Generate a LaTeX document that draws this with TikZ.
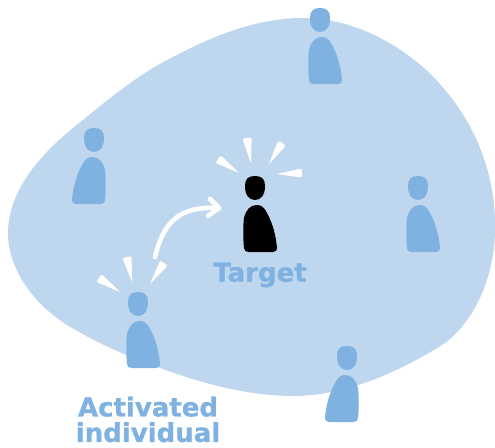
\documentclass[tikz,border=0pt]{standalone}
\usepackage{fontspec}
\setmainfont{DejaVu Sans}[BoldFeatures={FakeBold=0.8}]
\usetikzlibrary{calc}
\definecolor{blobblue}{HTML}{BED7EF}
\definecolor{figblue}{HTML}{7FB1E1}
\newcommand{\wedgeray}[4]{%
  \coordinate (rt) at (#1,#2);
  \coordinate (rw) at (#3,#4);
  \fill[white] (rt) [rounded corners=2.2pt] -- ($(rw)!4.7pt!90:(rt)$) -- ($(rw)!4.7pt!-90:(rt)$) [sharp corners] -- cycle;
}
\tikzset{
  personshape/.pic={
    \fill[pic actions] (0,-12) .. controls (7,-12) and (10,-9) .. (10,-2)
      .. controls (10,7) and (6,12) .. (0,12)
      .. controls (-6,12) and (-10,7) .. (-10,-2)
      .. controls (-10,-9) and (-7,-12) .. (0,-12) -- cycle;
    \fill[pic actions] (2,17) .. controls (-5,17) and (-9,22) .. (-11,30)
      .. controls (-12,37) and (-12,50) .. (-11,60)
      .. controls (-11,63) and (-9,64) .. (-6,64) -- (18,64)
      .. controls (21,64) and (22,62) .. (22,60)
      .. controls (21,48) and (18,36) .. (12,25)
      .. controls (9,19) and (6,17) .. (2,17) -- cycle;
  },
  labeltext/.style={text=figblue,font=\fontsize{26}{25.5}\selectfont\bfseries,align=center,inner sep=0pt},
  flow/.style={white,line width=4.6pt,line cap=round,line join=round}
}
\begin{document}
\begin{tikzpicture}[x=1pt,y=-1pt]
\useasboundingbox (0,0) rectangle (495,447);
\clip (0,0) rectangle (495,447);
\fill[blobblue] (300,18) .. controls (250,19) and (205,40) .. (167,60)
  .. controls (133,78) and (100,106) .. (67,133)
  .. controls (35,160) and (8,195) .. (8,233)
  .. controls (8,270) and (35,305) .. (67,325)
  .. controls (100,345) and (130,357) .. (160,368)
  .. controls (195,381) and (245,396) .. (293,396)
  .. controls (345,396) and (400,372) .. (445,343)
  .. controls (478,318) and (496,270) .. (495,225)
  .. controls (495,160) and (465,105) .. (423,67)
  .. controls (385,35) and (345,18) .. (300,18) -- cycle;
\pic[figblue] at (320,20) {personshape};
\pic[figblue] at (418,188) {personshape};
\pic[figblue] at (138,304) {personshape};
\pic[figblue,xscale=-1] at (94,140) {personshape};
\pic[figblue,xscale=-1] at (347,358) {personshape};
\pic[black] at (255,188) {personshape};
\wedgeray{239}{173}{218}{159}
\wedgeray{251}{163}{247}{138}
\wedgeray{269}{164}{282}{143}
\wedgeray{277}{174}{302}{173}
\wedgeray{120}{292}{99}{278}
\wedgeray{132}{282}{127}{257}
\wedgeray{150}{284}{164}{263}
\coordinate (arrowstart) at (155,257);
\coordinate (arrowend) at (219,208);
\coordinate (barbup) at (210,199);
\coordinate (barbdown) at (208,216);
\draw[flow] (arrowstart) .. controls (164,219) and (182,206) .. (arrowend);
\draw[flow] (barbup) -- (arrowend) -- (barbdown);
\node[labeltext] (targetlabel) at (260,275) {Target};
\node[labeltext] (activatedlabel) at (148,419.5) {Activated\\individual};
\end{tikzpicture}
\end{document}
